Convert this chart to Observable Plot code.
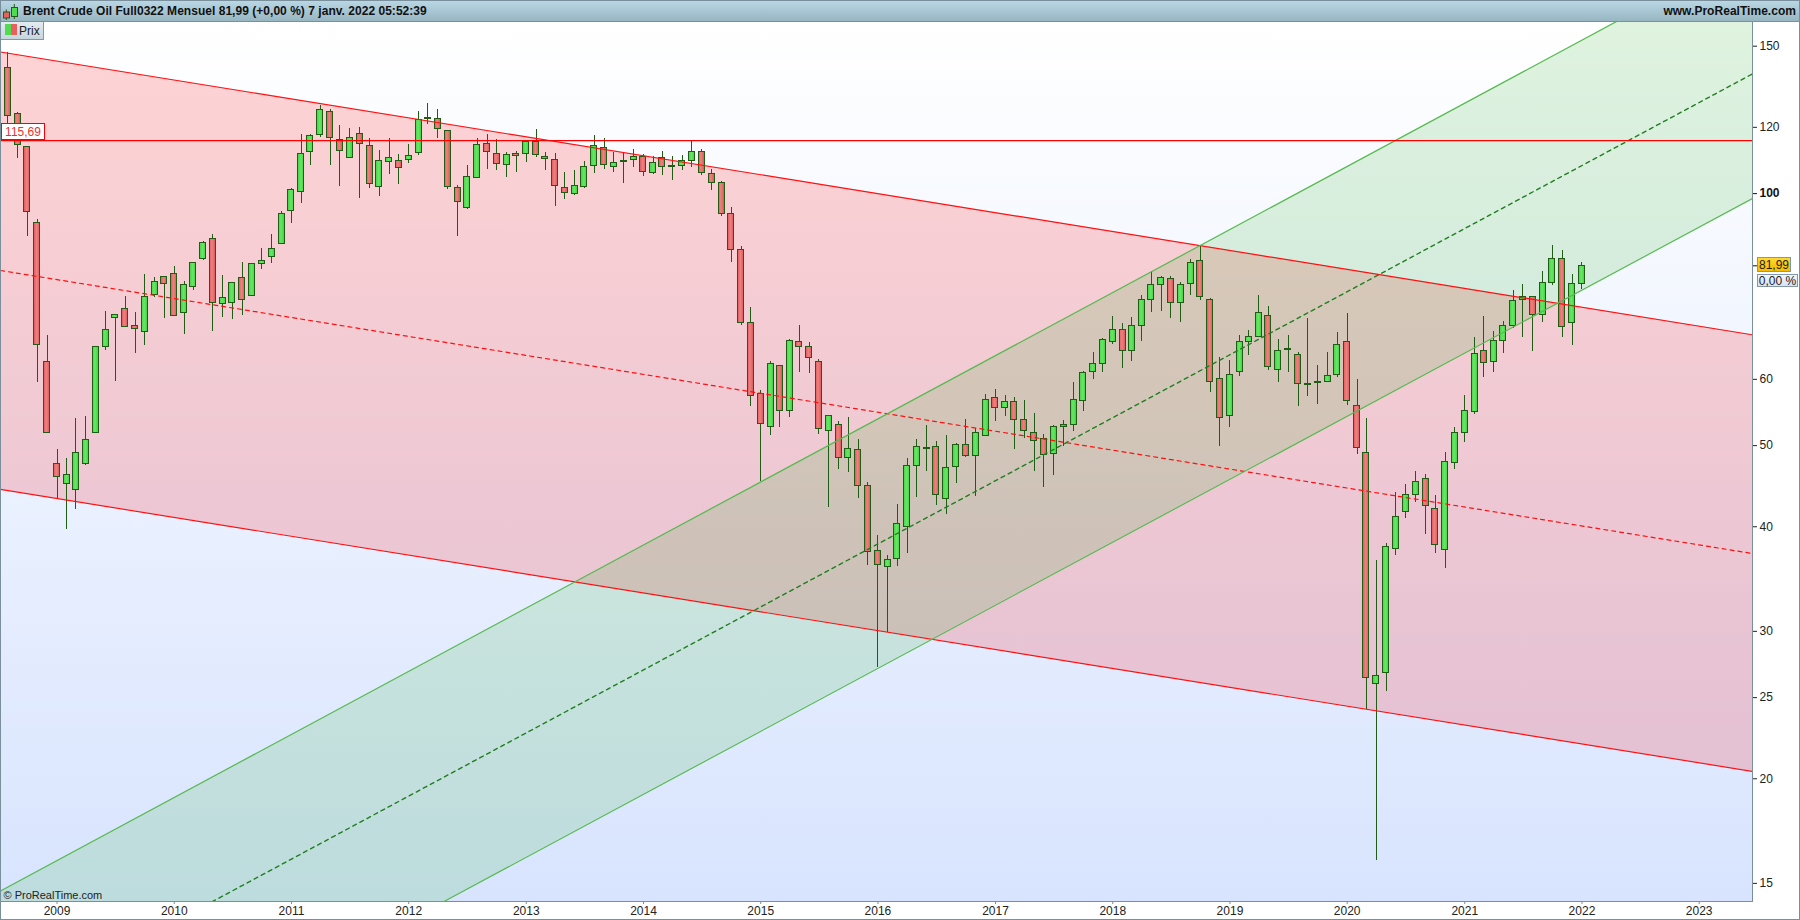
<!DOCTYPE html>
<html lang="fr">
<head>
<meta charset="utf-8">
<script src="https://cdn.jsdelivr.net/npm/d3@7"></script>
<script src="https://cdn.jsdelivr.net/npm/@observablehq/plot@0.6"></script>
<style>
html,body{margin:0;padding:0;background:#fff;overflow:hidden}
body{font-family:"Liberation Sans",Arial,sans-serif;color:#111}
#wrap{position:relative;width:1800px;height:920px;overflow:hidden}
#bar{position:relative;height:22px;box-sizing:border-box;background:linear-gradient(#bbd8e6,#98b5c2);border-bottom:1px solid #7a8f9c}
#bar .t{position:absolute;top:4px;font-weight:bold;font-size:12px;line-height:14px;white-space:nowrap;color:#111;letter-spacing:0.03px}
#bar svg{position:absolute;left:0;top:0}
#chart svg{display:block}
.ov{position:absolute;box-sizing:border-box;font-size:12px;line-height:1;white-space:nowrap}
#legend{left:1px;top:22px;width:43px;height:18px;background:linear-gradient(#e3ecf1,#c6d5dd);border-right:1px solid #7f99a8;border-bottom:1px solid #7f99a8;color:#222}
#legend i{position:absolute;top:2px;height:11px;width:6px}
#legend span{position:absolute;left:18px;top:3px}
#lvl{left:1px;width:44px;height:17px;background:#fff;border:1px solid #ff0000;color:#f03030;text-align:center;padding-top:2px}
#px{left:1757px;width:34px;height:15px;background:linear-gradient(#ffd92e,#f5bb00);border:1px solid #7f99a8;color:#222;text-align:center;padding-top:1px}
#pct{left:1757px;width:41px;height:13px;background:linear-gradient(#f2f5fb,#d8e2f0);border:1px solid #7f99a8;color:#222;text-align:center}
#edge{left:0;top:0;width:1800px;height:920px;border:1px solid #7a8f9c;pointer-events:none}
</style>
</head>
<body>
<div id="wrap">
  <div id="bar">
    <svg width="20" height="22"><path d="M6.3 9.5V20M14.3 4V19" stroke="#1f5c14"/><rect x="3.5" y="12" width="6" height="6" fill="#e8605f" stroke="#1f5c14"/><rect x="11.5" y="7.5" width="6" height="9" fill="#4fdc4f" stroke="#1f5c14"/></svg>
    <div class="t" style="left:23px">Brent Crude Oil Full0322 Mensuel 81,99 (+0,00 %) 7 janv. 2022 05:52:39</div>
    <div class="t" style="right:4px">www.ProRealTime.com</div>
  </div>
  <div id="chart"></div>
  <div id="legend" class="ov"><i style="left:4px;background:#4fdc4f"></i><i style="left:10px;background:#e8605f"></i><span>Prix</span></div>
  <div id="lvl" class="ov">115,69</div>
  <div id="px" class="ov">81,99</div>
  <div id="pct" class="ov">0,00 %</div>
  <div id="edge" class="ov"></div>
</div>
<script>
// Monthly candles: August 2008 to January 2022
const firstMonth = new Date(Date.UTC(2008, 7, 1));
const opens = [
141.3,124.6,113.8,92.3,63.0,47.5,45.0,44.2,47.6,51.7,
65.5,71.0,72.9,69.5,68.3,75.6,79.4,80.1,72.0,77.4,
83.6,88.2,73.9,74.1,79.2,75.4,82.5,84.0,87.1,95.3,
100.5,112.2,117.5,125.2,115.9,110.4,117.9,114.1,101.8,109.1,
109.4,109.7,111.9,123.2,122.8,118.8,101.5,96.2,104.4,114.7,
111.6,108.2,111.6,111.6,115.4,110.6,109.7,101.5,99.9,101.8,
107.9,113.4,107.6,109.4,109.7,110.6,105.9,110.3,107.9,107.9,
109.4,112.2,105.6,103.0,94.5,85.7,70.1,57.6,52.7,62.3,
55.0,66.5,65.5,63.0,52.0,52.9,48.3,49.4,44.7,37.37,
35.84,36.6,40.0,47.3,49.7,49.8,43.2,47.1,50.1,48.6,
51.4,57.0,55.5,56.4,53.7,51.8,50.9,48.9,52.9,52.9,
56.6,61.2,62.6,66.4,68.8,64.8,69.4,74.7,77.7,79.0,
74.1,77.9,83.0,74.7,60.0,54.3,61.3,66.4,67.4,71.5,
61.6,65.3,64.2,59.3,59.6,59.6,60.8,66.4,55.8,49.0,
25.93,26.72,37.6,41.7,43.6,45.6,42.0,37.5,47.7,51.7,
54.8,64.8,63.0,66.7,69.4,74.7,75.2,71.7,78.3,83.6,
70.1,77.9];
const highs = [
147.4,124.9,113.8,93.0,67.7,49.5,48.2,53.9,54.2,65.7,
72.3,71.7,75.4,72.1,80.1,79.5,79.7,81.9,78.6,82.8,
87.6,89.3,79.9,78.4,82.8,82.3,86.0,89.3,95.1,101.5,
117.8,117.8,127.3,126.0,120.5,119.5,120.0,116.3,112.6,116.3,
111.4,114.5,125.5,128.0,126.0,118.8,102.2,108.0,116.4,117.6,
116.0,111.9,112.3,115.4,119.3,112.0,111.7,106.0,106.5,109.2,
117.3,116.4,112.0,111.6,112.8,111.3,110.6,112.3,110.6,111.0,
115.3,112.8,106.8,103.3,96.2,86.4,73.1,58.2,63.0,62.3,
66.9,69.6,66.4,63.3,54.3,53.4,54.0,50.9,45.2,39.0,
36.95,42.5,48.2,50.8,52.9,50.6,51.4,50.3,53.7,52.4,
57.6,58.4,57.4,57.0,56.6,54.6,51.5,52.9,53.6,59.5,
61.3,64.6,67.1,71.3,69.9,71.1,75.6,80.7,79.6,79.6,
78.3,83.4,86.7,75.0,63.7,63.2,67.7,68.6,75.6,73.3,
66.9,67.7,64.6,70.9,62.3,64.6,68.2,71.9,60.0,53.9,
36.47,38.19,43.9,44.9,46.6,46.2,43.6,49.0,52.6,57.4,
67.3,71.3,68.4,70.3,76.6,77.9,75.4,80.7,86.7,85.4,
80.1,82.7];
const lows = [
121.3,110.2,88.9,59.4,51.7,43.2,39.7,42.0,47.4,51.7,
64.9,59.7,69.1,64.5,65.9,75.1,71.0,71.5,67.9,76.7,
83.2,68.5,71.2,70.8,71.6,75.4,81.1,82.4,87.1,92.2,
97.4,107.9,116.8,108.1,102.0,110.1,98.7,101.4,99.3,105.5,
102.6,108.7,111.1,120.9,116.4,101.1,88.9,95.6,104.4,106.8,
106.5,104.6,106.0,108.9,110.5,106.6,96.6,98.5,99.5,101.4,
105.8,106.9,106.0,102.9,107.5,104.9,105.3,105.2,103.7,106.6,
107.5,105.2,100.9,93.9,82.8,69.6,55.7,45.3,51.4,52.5,
54.0,61.2,60.9,51.6,42.2,46.8,46.4,43.2,36.0,27.13,
29.89,35.9,37.2,43.3,46.6,42.4,41.4,45.0,48.4,43.5,
51.4,53.5,54.1,49.5,51.0,46.6,44.5,46.1,49.9,52.0,
54.9,59.9,61.1,66.1,61.8,63.1,66.6,72.2,72.4,71.0,
70.2,75.5,74.5,57.8,49.9,52.5,60.4,64.0,67.4,61.4,
59.4,61.2,55.7,57.2,56.0,59.5,60.3,55.9,48.8,24.17,
15.98,25.43,37.0,40.9,42.8,39.2,37.2,35.7,46.8,50.5,
54.5,60.3,61.2,64.5,69.0,67.4,64.7,70.2,77.7,67.4,
65.8,76.8];
const closes = [
123.8,114.4,95.1,65.9,51.7,45.9,46.1,49.0,50.8,65.5,
68.8,71.7,69.3,68.9,75.2,78.5,77.9,71.5,77.7,82.7,
87.3,74.1,75.0,78.1,74.7,82.3,83.1,85.9,94.5,101.0,
111.6,117.2,125.9,116.6,112.5,116.6,114.7,102.7,109.4,110.3,
107.3,110.9,122.5,122.7,119.5,101.8,97.8,104.7,114.4,112.2,
108.5,111.3,111.0,115.2,111.3,110.0,102.1,100.2,102.1,107.6,
114.1,108.2,108.8,109.0,110.6,106.2,108.8,107.6,107.5,109.4,
112.2,105.9,103.0,94.5,85.7,70.1,57.3,53.0,62.6,55.0,
66.7,65.5,63.6,52.3,54.2,48.3,49.5,44.7,37.3,36.03,
36.5,40.3,47.3,49.8,49.5,43.6,47.0,50.1,48.6,51.8,
56.7,55.5,56.4,53.6,52.1,50.6,48.7,52.7,52.7,56.7,
61.0,62.6,66.9,68.8,64.8,69.4,74.7,77.7,79.2,74.1,
77.7,82.7,75.2,59.5,53.9,60.8,66.4,67.4,72.0,62.0,
64.8,65.1,59.3,59.1,59.4,60.5,66.0,56.6,49.7,26.36,
26.5,37.88,41.1,43.6,45.3,42.3,38.0,47.8,51.8,55.0,
64.4,62.7,66.7,69.4,74.5,75.2,71.7,78.3,83.6,69.2,
77.9,81.99];

// Channel lines, read at the two edges of the chart
const edgeDates = [new Date(Date.UTC(2008, 6, 9)), new Date(Date.UTC(2023, 5, 16))];
const redUpper = [147.62, 67.81];
const redMiddle = [80.94, 37.16];
const redLower = [44.32, 20.41];
const greenUpper = [14.69, 196.3];
const greenMiddle = [10.43, 139.0];
const greenLower = [7.41, 98.67];
const levelPrice = 115.69;
const lastPrice = 81.99;

const priceTicks = [150, 120, 60, 50, 40, 30, 25, 20, 15];
const boldTicks = [100];
const yearTicks = [2009,2010,2011,2012,2013,2014,2015,2016,2017,2018,2019,2020,2021,2022,2023];

const candles = opens.map((o, i) => ({
  date: d3.utcMonth.offset(firstMonth, i), o, h: highs[i], l: lows[i], c: closes[i]
}));
const up = candles.filter(d => d.c >= d.o);
const down = candles.filter(d => d.c < d.o);
const band = (a, b) => edgeDates.map((date, i) => ({date, a: a[i], b: b[i]}));
const line = (a) => edgeDates.map((date, i) => ({date, v: a[i]}));

const WICK = "#1f5c14";
const bodyOpts = {x1: "date", x2: "date", y1: "o", y2: "c", insetLeft: -3, insetRight: -3,
  stroke: WICK, strokeWidth: 1, shapeRendering: "crispEdges"};
const axisCol = "#7a8f9c";

const plot = Plot.plot({
  width: 1800, height: 898,
  marginLeft: 0, marginRight: 48, marginTop: 0, marginBottom: 19,
  style: {fontFamily: '"Liberation Sans", Arial, sans-serif', fontSize: "12px", background: "#fff", color: "#222"},
  x: {type: "utc", domain: edgeDates},
  y: {type: "log", domain: [14.27, 160.1]},
  marks: [
    Plot.frame({fill: "url(#bgGrad)", stroke: "none"}),
    Plot.areaY(band(redUpper, redLower), {x: "date", y1: "a", y2: "b", fill: "rgb(255,0,0)", fillOpacity: 0.17, clip: true}),
    Plot.areaY(band(greenUpper, greenLower), {x: "date", y1: "a", y2: "b", fill: "rgb(40,175,35)", fillOpacity: 0.15, clip: true}),
    Plot.ruleX(candles, {x: "date", y1: "l", y2: "h", stroke: WICK, strokeWidth: 1, shapeRendering: "crispEdges"}),
    Plot.rect(up, {...bodyOpts, fill: "url(#upGrad)"}),
    Plot.rect(down, {...bodyOpts, fill: "url(#downGrad)"}),
    Plot.line(line(redUpper), {x: "date", y: "v", stroke: "#ff1010", strokeWidth: 1.2, clip: true}),
    Plot.line(line(redLower), {x: "date", y: "v", stroke: "#ff1010", strokeWidth: 1.2, clip: true}),
    Plot.line(line(redMiddle), {x: "date", y: "v", stroke: "#ff1010", strokeWidth: 1.2, strokeDasharray: "4,4", clip: true}),
    Plot.line(line(greenUpper), {x: "date", y: "v", stroke: "#56ba4e", strokeWidth: 1.2, clip: true}),
    Plot.line(line(greenLower), {x: "date", y: "v", stroke: "#56ba4e", strokeWidth: 1.2, clip: true}),
    Plot.line(line(greenMiddle), {x: "date", y: "v", stroke: "#1f7f1f", strokeWidth: 1.4, strokeDasharray: "4,4", clip: true}),
    Plot.ruleY([levelPrice], {stroke: "#ff0000", strokeWidth: 1.2}),
    Plot.frame({anchor: "right", stroke: axisCol}),
    Plot.frame({anchor: "bottom", stroke: axisCol}),
    Plot.axisY({anchor: "right", ticks: priceTicks, tickSize: 4, tickPadding: 3, label: null, tickFormat: d => String(d), fill: "#222", stroke: "#222"}),
    Plot.axisY({anchor: "right", ticks: boldTicks, tickSize: 4, tickPadding: 3, label: null, tickFormat: d => String(d), fontWeight: "bold", fill: "#111", stroke: "#111"}),
    Plot.axisY({anchor: "right", ticks: [lastPrice], tickSize: 4, tickPadding: 3, label: null, tickFormat: () => "", stroke: "#111"}),
    Plot.axisX({ticks: yearTicks.map(y => new Date(Date.UTC(y, 0, 1))), tickSize: 3, tickPadding: 2, label: null, tickFormat: d3.utcFormat("%Y"), fill: "#222", stroke: axisCol}),
    Plot.text(["© ProRealTime.com"], {frameAnchor: "bottom-left", dx: 3, dy: -3, textAnchor: "start", fontSize: 11, fill: "#222"})
  ]
});

// Gradients used by the background and the candle bodies
const defs = d3.select(plot).insert("defs", ":first-child");
function grad(id, x2, y2, stops) {
  const g = defs.append("linearGradient").attr("id", id).attr("x1", 0).attr("y1", 0).attr("x2", x2).attr("y2", y2);
  stops.forEach(([o, c]) => g.append("stop").attr("offset", o).attr("stop-color", c));
}
grad("bgGrad", 0, 1, [[0, "#ffffff"], [1, "#d8e4fe"]]);
grad("upGrad", 1, 0, [[0, "#45d445"], [0.5, "#66e866"], [1, "#44d044"]]);
grad("downGrad", 1, 0, [[0, "#de5c5c"], [0.45, "#f08080"], [1, "#d85a5a"]]);

document.getElementById("chart").appendChild(plot);

// Value tags follow the y scale
const yPx = v => plot.scale("y").apply(v) + 22;
document.getElementById("lvl").style.top = (yPx(levelPrice) - 17) + "px";
document.getElementById("px").style.top = (yPx(lastPrice) - 8) + "px";
document.getElementById("pct").style.top = (yPx(lastPrice) + 9) + "px";
</script>
</body>
</html>
